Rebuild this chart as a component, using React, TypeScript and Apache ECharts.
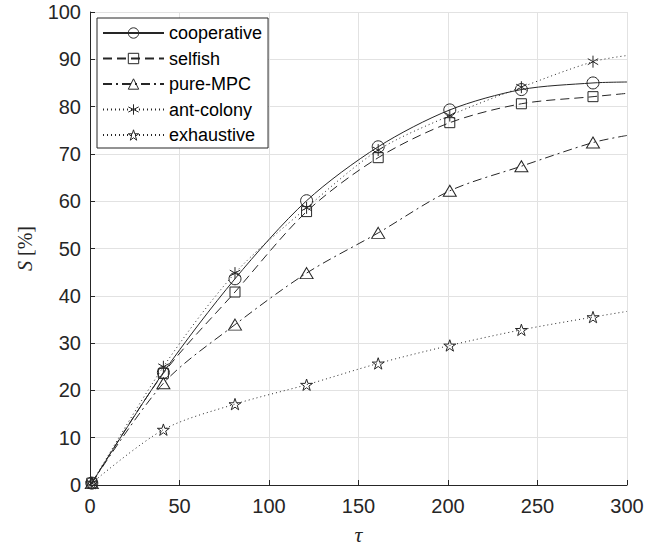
import React, { useEffect, useRef } from "react";
import * as echarts from "echarts";

// ---- data ----
const TAU = [1, 41, 81, 121, 161, 201, 241, 281];
const TAU_END = 300;
const SERIES_NAMES = ["cooperative", "selfish", "pure-MPC", "ant-colony", "exhaustive"];
const COOPERATIVE = [0.4, 23.8, 43.6, 60.1, 71.5, 79.3, 83.6, 85.0];
const COOPERATIVE_END = 85.2;
const SELFISH = [0.4, 23.6, 40.8, 57.8, 69.2, 76.6, 80.6, 82.1];
const SELFISH_END = 82.8;
const PURE_MPC = [0.4, 21.5, 33.9, 44.8, 53.3, 62.2, 67.4, 72.4];
const PURE_MPC_END = 73.9;
const ANT_COLONY = [0.4, 25.0, 44.8, 58.6, 70.8, 78.1, 84.1, 89.5];
const ANT_COLONY_END = 90.8;
const EXHAUSTIVE = [0.4, 11.7, 17.1, 21.2, 25.7, 29.5, 32.8, 35.5];
const EXHAUSTIVE_END = 36.7;
const X_MIN = 0, X_MAX = 300, X_STEP = 50;
const Y_MIN = 0, Y_MAX = 100, Y_STEP = 10;

// ---- marker shapes ----
const ASTERISK = "path://M0,-10L0,10M-8.66,-5L8.66,5M-8.66,5L8.66,-5";
const starPts = Array.from({ length: 10 }, (_, k) => {
  const r = k % 2 === 0 ? 10 : 3.82;
  const a = -Math.PI / 2 + (k * Math.PI) / 5;
  return (r * Math.cos(a)).toFixed(2) + "," + (r * Math.sin(a)).toFixed(2);
});
const STAR = "path://M" + starPts.join("L") + "Z";

const INK = "#262626";
const SANS = "'Liberation Sans', Arial, Helvetica, sans-serif";
const SERIF = "'Liberation Serif', 'Times New Roman', serif";
const HOLLOW = "rgba(0,0,0,0)";

function build(values: number[], end: number) {
  const pts: any[] = TAU.map((t, i) => [t, values[i]]);
  pts.push({ value: [TAU_END, end], symbol: "none" });
  return pts;
}

const STYLES = [
  { values: COOPERATIVE, end: COOPERATIVE_END, symbol: "circle", size: 12, dash: "solid" as any },
  { values: SELFISH, end: SELFISH_END, symbol: "rect", size: 10, dash: [9, 5] },
  { values: PURE_MPC, end: PURE_MPC_END, symbol: "triangle", size: [13, 11], dash: [9, 4, 2, 4] },
  { values: ANT_COLONY, end: ANT_COLONY_END, symbol: ASTERISK, size: 12, dash: [1, 3] },
  { values: EXHAUSTIVE, end: EXHAUSTIVE_END, symbol: STAR, size: 12, dash: [1, 3] },
];

export default function App() {
  const ref = useRef<HTMLDivElement>(null);
  useEffect(() => {
    if (!ref.current) return;
    const chart = echarts.init(ref.current, undefined, { renderer: "svg" });
    const axisCommon = {
      type: "value",
      axisLine: { show: true, onZero: false, lineStyle: { color: INK, width: 1 } },
      axisTick: { show: true, inside: true, length: 5, lineStyle: { color: INK, width: 1 } },
      axisLabel: { fontSize: 20, fontFamily: SANS, color: INK },
      splitLine: { show: true, lineStyle: { color: "#e2e2e2", width: 1 } },
    };
    chart.setOption({
      animation: false,
      backgroundColor: "#fff",
      grid: { left: 90, top: 12, width: 537, height: 476, containLabel: false },
      xAxis: {
        ...axisCommon,
        min: X_MIN,
        max: X_MAX,
        interval: X_STEP,
        axisLabel: { ...axisCommon.axisLabel, margin: 11 },
        name: "τ",
        nameLocation: "middle",
        nameGap: 38,
        nameTextStyle: { fontFamily: SERIF, fontStyle: "italic", fontSize: 22, color: INK },
      },
      yAxis: {
        ...axisCommon,
        min: Y_MIN,
        max: Y_MAX,
        interval: Y_STEP,
        axisLabel: { ...axisCommon.axisLabel, margin: 9 },
        name: "{i|S} [%]",
        nameLocation: "middle",
        nameRotate: 90,
        nameGap: 55,
        nameTextStyle: {
          fontFamily: SERIF,
          fontSize: 20,
          color: INK,
          rich: { i: { fontFamily: SERIF, fontStyle: "italic", fontSize: 20, color: INK } },
        },
      },
      legend: {
        left: 97,
        top: 18,
        orient: "vertical",
        itemWidth: 61,
        itemHeight: 13,
        itemGap: 7.5,
        padding: [6, 6, 4, 5],
        borderColor: INK,
        borderWidth: 1,
        backgroundColor: "#fff",
        itemStyle: { color: HOLLOW, borderColor: INK, borderWidth: 1 },
        textStyle: { fontSize: 18, fontFamily: SANS, color: "#000" },
        data: SERIES_NAMES,
      },
      series: STYLES.map((s, i) => ({
        name: SERIES_NAMES[i],
        type: "line",
        data: build(s.values, s.end),
        smooth: 0.3,
        symbol: s.symbol,
        symbolSize: s.size,
        symbolKeepAspect: true,
        showAllSymbol: true,
        lineStyle: { color: INK, width: 1, type: s.dash },
        itemStyle: { color: HOLLOW, borderColor: INK, borderWidth: 1 },
        emphasis: { disabled: true },
      })),
    });
    return () => chart.dispose();
  }, []);
  return (
    <div
      ref={ref}
      style={{ position: "fixed", left: 0, top: 0, width: 670, height: 550, background: "#fff" }}
    />
  );
}
